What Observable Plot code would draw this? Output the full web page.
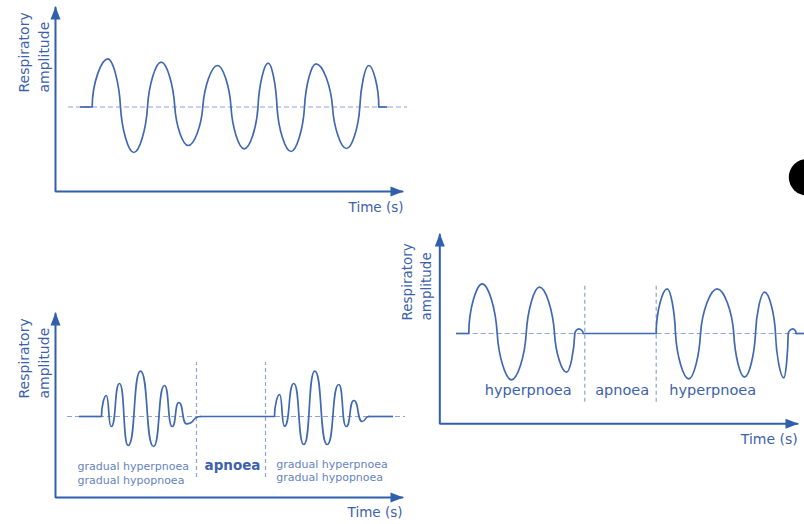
<!DOCTYPE html>
<html>
<head>
<meta charset="utf-8">
<script src="https://cdn.jsdelivr.net/npm/d3@7"></script>
<script src="https://cdn.jsdelivr.net/npm/@observablehq/plot@0.6"></script>
<style>
html, body { margin: 0; padding: 0; background: #fff; }
#root { position: relative; width: 804px; height: 524px; overflow: hidden; }
#root svg { position: absolute; }
</style>
</head>
<body>
<div id="root"></div>
<script>
// Values: time from the y axis, amplitude from the resting (dashed) line.
// Each breath is given by its zero crossings and its peaks / troughs.

// ---------- Panel 1: regular breathing ----------
const regularBreaths = [
  [36.7, 0], [52.3, 48.2], [65.0, 0], [78.3, -45.5], [92.0, 0], [105.7, 44.8], [119.3, 0],
  [132.7, -38.5], [147.3, 0], [162.0, 41.5], [175.5, 0], [188.7, -41.8], [202.5, 0],
  [212.7, 43.8], [221.5, 0], [235.5, -44.5], [249.0, 0], [260.5, 43.2], [277.0, 0],
  [291.0, -41.5], [304.3, 0], [313.3, 41.5], [323.3, 0]
];
const regularRest = [[25, 36.7], [323.3, 332.3]];
const regularGuide = [13, 352];
const regularAxisT = [0, 347];
const regularAxisA = [-84.5, 99.5];

// ---------- Panel 2: Cheyne-Stokes (crescendo-decrescendo), peaks and troughs ----------
const cheyneBurst1 = [
  [46, 0], [50.7, 21], [55.7, -10], [64, 33], [72.7, -29], [85, 45.3], [98, -30],
  [109, 31], [116.7, -10], [123.3, 14], [131, -7.3], [145, 0]
];
const cheyneBurst2 = [
  [219, 0], [224, 22], [229, -9.7], [238.3, 33], [248.3, -28], [259.3, 45.3], [271.7, -28],
  [283.3, 32], [290.7, -10], [298.3, 16], [306.7, -5], [313, 0]
];
const cheyneRest = [[24, 46], [145, 219], [313, 338]];
const cheyneGuide = [12, 350];
const cheyneSeparators = [141, 210];
const cheyneSeparatorSpan = [-61, 54];
const cheyneAxisT = [0, 347];
const cheyneAxisA = [-81, 103];
const cheyneNoteText = ["gradual hyperpnoea\ngradual hypopnoea", "gradual hyperpnoea\ngradual hypopnoea"];
const cheyneNoteT = [22, 220.7];
const cheyneNoteA = [-56, -53.5];
const cheyneApnoea = ["apnoea"];
const cheyneApnoeaT = [177];
const cheyneApnoeaA = [-49];

// ---------- Panel 3: cluster breathing ----------
const biotBurst1 = [
  [29, 0], [42.4, 49.7], [57.4, 0], [71.7, -46.3], [86.4, 0], [99.7, 46.3], [114.7, 0],
  [126.7, -38.7], [135, 0], [139, 4.7], [143.4, 0]
];
const biotBurst2 = [
  [216.4, 0], [227.4, 44.7], [235.7, 0], [249, -45.3], [260.7, 0], [277.4, 44.7], [294, 0],
  [304.7, -43.7], [315.7, 0], [324.7, 41.3], [335.7, 0], [344, -44.3], [348.4, 0], [353, 4.7], [356.4, 0]
];
const biotRest = [[16.7, 29], [143.4, 216.4], [356.4, 364.7]];
const biotGuide = [17.4, 364.7];
const biotSeparators = [145, 216.4];
const biotSeparatorSpan = [-68.7, 49];
const biotAxisT = [0, 357.7];
const biotAxisA = [-90.3, 99];
const biotPhaseText = ["hyperpnoea", "apnoea", "hyperpnoea"];
const biotPhaseT = [88.4, 182.4, 272.9];
const biotPhaseA = -57;
const blob = [[367.3, 156.3]];

const axisTitle = "Respiratory\namplitude";
const timeTitle = "Time (s)";

// ---------- styles ----------
const axisColor = "#2f5fad";
const waveColor = "#4168b2";
const guideColor = "#8ea4d4";
const textColor = "#3d62ab";
const noteColor = "#6583c3";
const FONT = "DejaVu Sans, sans-serif";

const upHead = { draw(ctx) { ctx.moveTo(0, -1); ctx.lineTo(5, 12); ctx.lineTo(-5, 12); ctx.closePath(); } };
const rightHead = { draw(ctx) { ctx.moveTo(1, 0); ctx.lineTo(-12, -5); ctx.lineTo(-12, 5); ctx.closePath(); } };

// Curve: rounded lobes — horizontal tangent at peaks/troughs, steep at crossings (vertical at the ends).
function breathCurve(context) {
  let pts;
  const Q = 0.5, R = 0.4, P = 0.1, HH = 0.62;
  return {
    areaStart() {}, areaEnd() {},
    lineStart() { pts = []; },
    point(x, y) { pts.push([+x, +y]); },
    lineEnd() {
      const n = pts.length;
      if (!n) return;
      const tan = pts.map((p, i) => {
        if (i === 0 || i === n - 1) {
          const q = pts[i === 0 ? 1 : n - 2];
          if (!q) return "h";
          return Math.abs(q[1] - p[1]) > Math.abs(q[0] - p[0]) ? "v" : "h";
        }
        const a = pts[i - 1][1], b = p[1], c = pts[i + 1][1];
        return (b - a) * (c - b) <= 0 ? "h" : "v";
      });
      context.moveTo(pts[0][0], pts[0][1]);
      for (let i = 0; i < n - 1; i++) {
        const [x0, y0] = pts[i], [x1, y1] = pts[i + 1];
        const dx = x1 - x0, dy = y1 - y0;
        let c1, c2;
        if (tan[i] === "v" && tan[i + 1] === "h") {
          const p = i === 0 ? 0 : P;
          c1 = [x0 + p * dx, y0 + Q * dy]; c2 = [x1 - R * dx, y1];
        } else if (tan[i] === "h" && tan[i + 1] === "v") {
          const p = i + 1 === n - 1 ? 0 : P;
          c1 = [x0 + R * dx, y0]; c2 = [x1 - p * dx, y1 - Q * dy];
        } else if (tan[i] === "h" && tan[i + 1] === "h") {
          c1 = [x0 + HH * dx, y0]; c2 = [x1 - HH * dx, y1];
        } else {
          c1 = [x0, y0 + 0.5 * dy]; c2 = [x1, y1 - 0.5 * dy];
        }
        context.bezierCurveTo(c1[0], c1[1], c2[0], c2[1], x1, y1);
      }
    }
  };
}

function axesMarks(axisT, axisA, labelT, labelA, labelSize, timeT, timeA, timeSize) {
  return [
    Plot.line([[axisT[0], axisA[1]], [axisT[0], axisA[0]], [axisT[1], axisA[0]]],
      { stroke: axisColor, strokeWidth: 2, strokeLinejoin: "miter" }),
    Plot.dot([[axisT[0], axisA[1]]], { symbol: upHead, fill: axisColor, stroke: "none" }),
    Plot.dot([[axisT[1], axisA[0]]], { symbol: rightHead, fill: axisColor, stroke: "none" }),
    Plot.text([axisTitle], { x: labelT, y: labelA, rotate: -90, textAnchor: "start", lineHeight: 1.43,
      fontSize: labelSize, fill: textColor, fontFamily: FONT }),
    Plot.text([timeTitle], { x: timeT, y: timeA, textAnchor: "end", fontSize: timeSize, fill: textColor, fontFamily: FONT })
  ];
}
const restMark = (rest) => Plot.ruleY(rest, { x1: d => d[0], x2: d => d[1], y: 0, stroke: waveColor, strokeWidth: 1.7 });
const waveMark = (pts) => Plot.line(pts, { curve: breathCurve, stroke: waveColor, strokeWidth: 1.7 });
const guideMark = (g) => Plot.ruleY([0], { x1: g[0], x2: g[1], stroke: guideColor, strokeWidth: 1.2, strokeDasharray: "5,3" });
const sepMark = (s, span) => Plot.ruleX(s, { y1: span[0], y2: span[1], stroke: guideColor, strokeWidth: 1.2, strokeDasharray: "4,3" });

function panel(frame, marks) {
  const { left, top, width, height, originX, baseY } = frame;
  const svg = Plot.plot({
    width, height, margin: 0,
    x: { domain: [left - originX, left + width - originX], axis: null },
    y: { domain: [baseY - top - height, baseY - top], axis: null },
    style: { background: "transparent", fontFamily: FONT },
    marks
  });
  svg.style.left = left + "px";
  svg.style.top = top + "px";
  document.getElementById("root").appendChild(svg);
}

panel({ left: 0, top: 0, width: 420, height: 230, originX: 55, baseY: 106.5 }, [
  guideMark(regularGuide),
  restMark(regularRest),
  waveMark(regularBreaths),
  ...axesMarks(regularAxisT, regularAxisA, -23, 14.5, 14, 348, -100.5, 13.5)
]);

panel({ left: 0, top: 290, width: 420, height: 234, originX: 55, baseY: 416 }, [
  guideMark(cheyneGuide),
  sepMark(cheyneSeparators, cheyneSeparatorSpan),
  restMark(cheyneRest),
  waveMark(cheyneBurst1),
  waveMark(cheyneBurst2),
  Plot.text(cheyneNoteText, { x: (d, i) => cheyneNoteT[i], y: (d, i) => cheyneNoteA[i], textAnchor: "start",
    lineHeight: 1.27, fontSize: 11, fill: noteColor, fontFamily: FONT }),
  Plot.text(cheyneApnoea, { x: (d, i) => cheyneApnoeaT[i], y: (d, i) => cheyneApnoeaA[i], fontSize: 13.5,
    fontWeight: "bold", fill: textColor, fontFamily: FONT, letterSpacing: "0.3px" }),
  ...axesMarks(cheyneAxisT, cheyneAxisA, -23, 18, 14, 347, -96, 13.5)
]);

panel({ left: 390, top: 140, width: 414, height: 320, originX: 439.3, baseY: 333 }, [
  guideMark(biotGuide),
  sepMark(biotSeparators, biotSeparatorSpan),
  restMark(biotRest),
  waveMark(biotBurst1),
  waveMark(biotBurst2),
  Plot.text(biotPhaseText, { x: (d, i) => biotPhaseT[i], y: biotPhaseA, fontSize: 14.5, fill: textColor, fontFamily: FONT }),
  Plot.dot(blob, { r: 18.3, fill: "black", stroke: "none" }),
  ...axesMarks(biotAxisT, biotAxisA, -24.3, 13, 13.5, 358, -106.3, 14)
]);
</script>
</body>
</html>
